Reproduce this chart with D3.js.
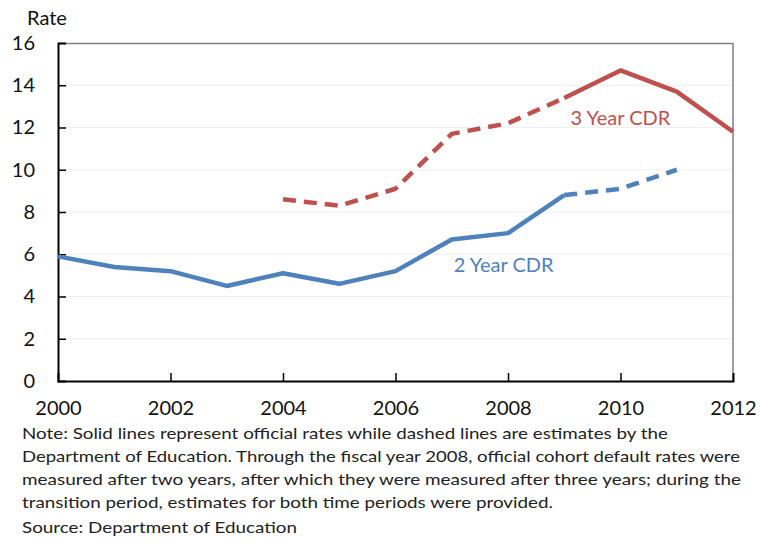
<!DOCTYPE html>
<html>
<head>
<meta charset="utf-8">
<script src="https://cdn.jsdelivr.net/npm/d3@7"></script>
<style>
  body { margin: 0; background: #fff; }
  text { font-family: Lato, "Open Sans", sans-serif; }
</style>
</head>
<body>
<div id="chart"></div>
<script>
// Cohort default rates
const years = [2000, 2001, 2002, 2003, 2004, 2005, 2006, 2007, 2008, 2009, 2010, 2011, 2012];
const twoYearCDR = [5.9, 5.4, 5.2, 4.5, 5.1, 4.6, 5.2, 6.7, 7.0, 8.8, 9.1, 10.0, null];
const threeYearCDR = [null, null, null, null, 8.6, 8.3, 9.1, 11.7, 12.2, 13.4, 14.7, 13.7, 11.8];
// year where official (solid) and estimate (dashed) meet
const switchYear = 2009;
const yTicks = [0, 2, 4, 6, 8, 10, 12, 14, 16];
const xTicks = [2000, 2002, 2004, 2006, 2008, 2010, 2012];
const noteLines = [
    "Note: Solid lines represent official rates while dashed lines are estimates by the",
    "Department of Education. Through the fiscal year 2008, official cohort default rates were",
    "measured after two years, after which they were measured after three years; during the",
    "transition period, estimates for both time periods were provided.",
    "Source: Department of Education"
];
const noteWidths = [646, 718, 719, 531, 275];

const W = 760, H = 542;
const margin = { top: 43, right: 27, bottom: 161, left: 58 };
const width = W - margin.left - margin.right;
const height = H - margin.top - margin.bottom;

const red = '#C0504D', blue = '#4F81BD';

const svg = d3.select('#chart').append('svg')
    .attr('width', W)
    .attr('height', H);

const chart = svg.append('g')
    .attr('transform', `translate(${margin.left},${margin.top})`);

const x = d3.scaleLinear().domain([2000, 2012]).range([0, width]);
const y = d3.scaleLinear().domain([0, 16]).range([height, 0]);

// Gridlines
chart.selectAll('.grid')
    .data(yTicks.filter(d => d > 0 && d < 16))
    .join('line')
    .attr('class', 'grid')
    .attr('x1', 0).attr('x2', width)
    .attr('y1', d => y(d)).attr('y2', d => y(d))
    .attr('stroke', '#efefef')
    .attr('stroke-width', 1);

// Frame top/right
chart.append('path')
    .attr('d', `M0,0.5H${width}V${height}`)
    .attr('fill', 'none')
    .attr('stroke', '#7f7f7f')
    .attr('stroke-width', 1.5);

// Axes
const yAxis = chart.append('g')
    .call(d3.axisLeft(y).tickValues(yTicks).tickSize(-8).tickPadding(31).tickFormat(d3.format('d')));
const xAxis = chart.append('g')
    .attr('transform', `translate(0,${height})`)
    .call(d3.axisBottom(x).tickValues(xTicks).tickSize(-8).tickPadding(20).tickFormat(d3.format('d')));

[yAxis, xAxis].forEach(a => {
    a.select('.domain').attr('stroke', '#000').attr('stroke-width', 2);
    a.selectAll('.tick line').attr('stroke', '#000').attr('stroke-width', 1.5);
    a.selectAll('.tick text').attr('font-size', 20).attr('fill', '#111')
        .style('font-family', 'Lato, "Open Sans", sans-serif');
});
yAxis.selectAll('.tick text').attr('text-anchor', 'end').attr('x', -23);
xAxis.selectAll('.tick').filter(d => d === 2000 || d === 2012).select('line').remove();
yAxis.selectAll('.tick').filter(d => d === 0 || d === 16).select('line').remove();

// Lines
const line = d3.line()
    .defined(d => d.v != null)
    .x(d => x(d.year))
    .y(d => y(d.v));

function pts(values, test) {
    return years.map((year, i) => ({ year, v: values[i] }))
        .filter(d => d.v != null && test(d.year));
}

const series = [
    { data: pts(twoYearCDR, yr => yr <= switchYear), color: blue, dash: null },
    { data: pts(twoYearCDR, yr => yr >= switchYear), color: blue, dash: '13,8' },
    { data: pts(threeYearCDR, yr => yr <= switchYear), color: red, dash: '13,8' },
    { data: pts(threeYearCDR, yr => yr >= switchYear), color: red, dash: null }
];

chart.selectAll('.series')
    .data(series)
    .join('path')
    .attr('class', 'series')
    .attr('d', d => line(d.data))
    .attr('fill', 'none')
    .attr('stroke', d => d.color)
    .attr('stroke-width', 4.5)
    .attr('stroke-linejoin', 'round')
    .attr('stroke-dasharray', d => d.dash);

// Series labels
chart.append('text')
    .attr('x', x(2010) - 50).attr('y', y(12.1))
    .attr('font-size', 20).attr('fill', red)
    .text('3 Year CDR');
chart.append('text')
    .attr('x', x(2007) + 2).attr('y', y(5.15))
    .attr('font-size', 20).attr('fill', blue)
    .text('2 Year CDR');

// Axis title
svg.append('text')
    .attr('x', 27).attr('y', 25)
    .attr('font-size', 20).attr('fill', '#111')
    .text('Rate');

// Note & source
svg.selectAll('.note')
    .data(noteLines)
    .join('text')
    .attr('class', 'note')
    .attr('x', 22)
    .attr('y', (d, i) => i < 4 ? 439 + i * 23 : 533)
    .attr('font-size', 16)
    .attr('fill', '#222')
    .attr('textLength', (d, i) => noteWidths[i])
    .attr('lengthAdjust', 'spacingAndGlyphs')
    .text(d => d);
</script>
</body>
</html>
